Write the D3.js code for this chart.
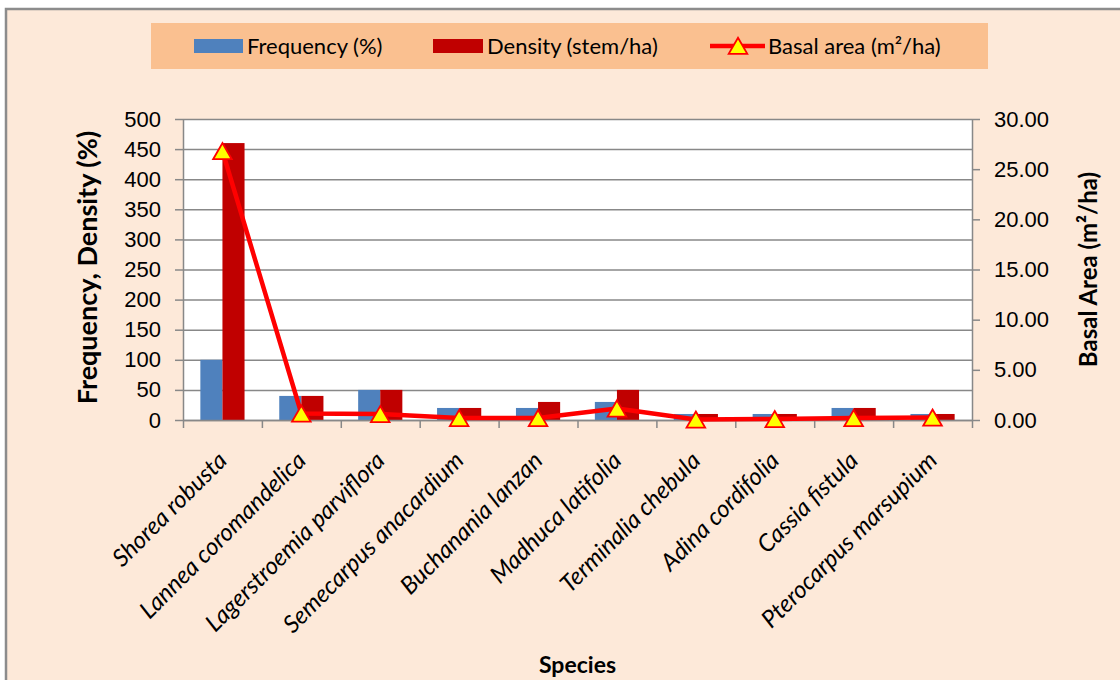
<!DOCTYPE html>
<html>
<head>
<meta charset="utf-8">
<script src="https://cdn.jsdelivr.net/npm/d3@7"></script>
<style>
  body { margin: 0; background: #fff; }
  svg { display: block; font-family: Lato, "Open Sans", sans-serif; }
  .axis path, .axis line { stroke: #888; stroke-width: 1.5; }
  .axis text { fill: #000; font-size: 22px; }
  .grid line { stroke: #888; stroke-width: 1.5; }
  .grid path { display: none; }
</style>
</head>
<body>
<svg id="chart" width="1120" height="680"></svg>
<script>
// species on the x axis
const species = [
  "Shorea robusta", "Lannea coromandelica", "Lagerstroemia parviflora",
  "Semecarpus anacardium", "Buchanania lanzan", "Madhuca latifolia",
  "Terminalia chebula", "Adina cordifolia", "Cassia fistula", "Pterocarpus marsupium"
];
const frequency = [100, 40, 50, 20, 20, 30, 10, 10, 20, 10];   // %
const density   = [460, 40, 50, 20, 30, 50, 10, 10, 20, 10];   // stem/ha
const basal     = [26.8, 0.65, 0.6, 0.2, 0.2, 1.15, 0.05, 0.1, 0.2, 0.25]; // m2/ha

const leftTicks = d3.range(0, 501, 50);
const rightTicks = d3.range(0, 31, 5);

const colFreq = "#4F81BD", colDens = "#C00000", colLine = "#FF0000";

const svg = d3.select("#chart");

// chart area background + frame
svg.append("rect").attr("x", 6).attr("y", 9).attr("width", 1130).attr("height", 690)
  .attr("fill", "#FDE9D9").attr("stroke", "#8c8c8c").attr("stroke-width", 2.5);

// plot area
const P = { left: 183, right: 972, top: 119, bottom: 420 };
const W = P.right - P.left, H = P.bottom - P.top;

svg.append("rect").attr("x", P.left).attr("y", P.top).attr("width", W).attr("height", H)
  .attr("fill", "#fff");

const x0 = d3.scaleBand().domain(species).range([P.left, P.right])
  .paddingInner(0.44).paddingOuter(0.22);
const x1 = d3.scaleBand().domain(["freq", "dens"]).range([0, x0.bandwidth()]);
const xb = d3.scaleLinear().domain([0, species.length]).range([P.left, P.right]);
const yL = d3.scaleLinear().domain([0, 500]).range([P.bottom, P.top]);
const yR = d3.scaleLinear().domain([0, 30]).range([P.bottom, P.top]);

// gridlines
svg.append("g").attr("class", "grid").attr("transform", `translate(${P.left},0)`)
  .call(d3.axisLeft(yL).tickValues(leftTicks).tickSize(-W).tickFormat(""));

// bars
const rows = species.map((s, i) => ({ s, freq: frequency[i], dens: density[i], basal: basal[i] }));
const g = svg.append("g").selectAll("g").data(rows).join("g")
  .attr("transform", d => `translate(${x0(d.s)},0)`);
g.append("rect").attr("x", x1("freq")).attr("width", x1.bandwidth())
  .attr("y", d => yL(d.freq)).attr("height", d => yL(0) - yL(d.freq)).attr("fill", colFreq);
g.append("rect").attr("x", x1("dens")).attr("width", x1.bandwidth())
  .attr("y", d => yL(d.dens)).attr("height", d => yL(0) - yL(d.dens)).attr("fill", colDens);

// axes
svg.append("g").attr("class", "axis").attr("transform", `translate(${P.left},0)`)
  .call(d3.axisLeft(yL).tickValues(leftTicks).tickSize(8).tickPadding(14).tickSizeOuter(0));
svg.append("g").attr("class", "axis").attr("transform", `translate(${P.right},0)`)
  .call(d3.axisRight(yR).tickValues(rightTicks).tickFormat(d3.format(".2f"))
    .tickSize(8).tickPadding(14).tickSizeOuter(0));
svg.append("g").attr("class", "axis").attr("transform", `translate(0,${P.bottom})`)
  .call(d3.axisBottom(xb).tickValues(d3.range(0, species.length + 1)).tickSize(8)
    .tickFormat("").tickSizeOuter(0));

// basal area line + triangles (marker box centred on the point, like Excel)
const cx = d => x0(d.s) + x0.bandwidth() / 2;
svg.append("path").datum(rows)
  .attr("fill", "none").attr("stroke", colLine).attr("stroke-width", 4.5)
  .attr("stroke-linejoin", "round")
  .attr("d", d3.line().x(cx).y(d => yR(d.basal)));
const tri = d3.symbol(d3.symbolTriangle, 150);
svg.append("g").selectAll("path").data(rows).join("path")
  .attr("transform", d => `translate(${cx(d)},${yR(d.basal) + 2.7})`)
  .attr("d", tri).attr("fill", "#FFFF00").attr("stroke", colLine).attr("stroke-width", 1.8);

// category labels
svg.append("g").selectAll("text").data(species).join("text")
  .attr("transform", d => `translate(${x0(d) + x0.bandwidth() / 2 + 6},${P.bottom + 42}) rotate(-45)`)
  .attr("text-anchor", "end").attr("font-size", 24).attr("font-style", "italic")
  .text(d => d);

// axis titles
svg.append("text").attr("transform", `translate(97,${(P.top + P.bottom) / 2 - 2}) rotate(-90)`)
  .attr("text-anchor", "middle").attr("font-size", 27).attr("font-weight", "bold")
  .text("Frequency, Density (%)");
svg.append("text").attr("transform", `translate(1097,${(P.top + P.bottom) / 2}) rotate(-90)`)
  .attr("text-anchor", "middle").attr("font-size", 24).attr("font-weight", "bold")
  .text("Basal Area (m²/ha)");
svg.append("text").attr("x", (P.left + P.right) / 2).attr("y", 673)
  .attr("text-anchor", "middle").attr("font-size", 23).attr("font-weight", "bold")
  .text("Species");

// legend
const lg = svg.append("g");
lg.append("rect").attr("x", 151).attr("y", 23).attr("width", 837).attr("height", 46).attr("fill", "#FAC090");
lg.append("rect").attr("x", 194).attr("y", 39).attr("width", 49).attr("height", 14).attr("fill", colFreq);
lg.append("text").attr("x", 247).attr("y", 54).attr("font-size", 22).text("Frequency (%)");
lg.append("rect").attr("x", 433).attr("y", 39).attr("width", 50).attr("height", 14).attr("fill", colDens);
lg.append("text").attr("x", 487).attr("y", 54).attr("font-size", 22).text("Density (stem/ha)");
lg.append("line").attr("x1", 710).attr("x2", 765).attr("y1", 46).attr("y2", 46)
  .attr("stroke", colLine).attr("stroke-width", 4.5);
lg.append("path").attr("transform", "translate(738,48.5)").attr("d", tri)
  .attr("fill", "#FFFF00").attr("stroke", colLine).attr("stroke-width", 1.8);
lg.append("text").attr("x", 768).attr("y", 54).attr("font-size", 22).text("Basal area (m²/ha)");
</script>
</body>
</html>
